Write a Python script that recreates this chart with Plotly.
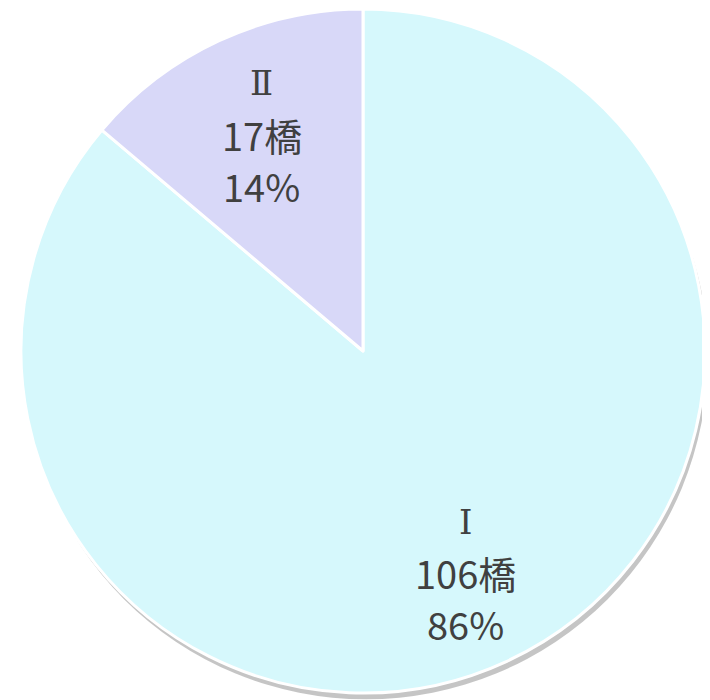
import plotly.graph_objects as go

categories = ["Ⅰ", "Ⅱ"]
counts = [106, 17]
unit = "橋"
colors = ["#D6F8FC", "#D8D8F8"]

percents = [round(c / sum(counts) * 100) for c in counts]

# label block centre positions (paper fractions) for each category
label_pos = {"Ⅰ": (0.645, 0.193), "Ⅱ": (0.3577, 0.82)}
line_step = 51 / 700

dom_x = [0.0183, 0.9817]
dom_y = [0.0214, 0.9986]

fig = go.Figure()
fig.add_trace(go.Pie(
    labels=categories,
    values=counts,
    textinfo="none",
    sort=False,
    direction="clockwise",
    rotation=0,
    marker=dict(colors=colors, line=dict(color="white", width=3)),
    domain=dict(x=dom_x, y=dom_y),
    showlegend=False,
    hoverinfo="label+value+percent",
))

for cat, n, p in zip(categories, counts, percents):
    px, py = label_pos[cat]
    lines = [(cat, "DejaVu Serif", 34), (f"{n}{unit}", "Noto Sans CJK JP", 38), (f"{p}%", "Noto Sans CJK JP", 38)]
    for i, (t, fam, sz) in enumerate(lines):
        fig.add_annotation(
            x=px, y=py + (1 - i) * line_step, xref="paper", yref="paper",
            text=t, showarrow=False, xanchor="center", yanchor="middle",
            font=dict(family=fam, size=sz, color="#404040"),
        )

# soft shadow beneath the pie
fig.add_shape(type="circle", xref="paper", yref="paper",
              x0=dom_x[0] + 0.004, x1=dom_x[1] + 0.004,
              y0=dom_y[0] - 0.009, y1=dom_y[1] - 0.009,
              fillcolor="rgba(110,110,110,0.4)", line=dict(width=0), layer="below")

fig.update_layout(
    width=710, height=700,
    margin=dict(l=0, r=0, t=0, b=0),
    paper_bgcolor="white",
    plot_bgcolor="white",
)

fig.write_html("out.html")
